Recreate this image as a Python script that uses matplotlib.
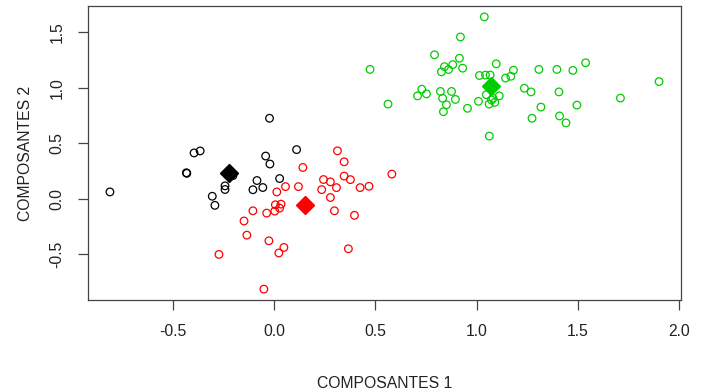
import matplotlib
matplotlib.use("Agg")
import matplotlib.pyplot as plt
import numpy as np

plt.rcParams["font.family"] = ["Liberation Sans", "DejaVu Sans"]

# cluster 1 (black)
x_black = [-0.024, -0.367, -0.397, 0.110, -0.043, -0.022, -0.435, -0.433, -0.205,
           0.026, -0.086, -0.057, -0.106, -0.244, -0.244, -0.813, -0.307, -0.294]
y_black = [0.725, 0.430, 0.412, 0.442, 0.384, 0.312, 0.233, 0.228, 0.207,
           0.181, 0.163, 0.100, 0.080, 0.115, 0.082, 0.060, 0.021, -0.061]

# cluster 2 (red)
x_red = [0.312, 0.345, 0.141, 0.581, 0.345, 0.376, 0.243, 0.277, 0.307, 0.234,
         0.119, 0.055, 0.012, 0.424, 0.468, 0.277, 0.005, 0.033, 0.026, 0.002,
         -0.106, -0.038, 0.297, 0.396, -0.150, -0.136, -0.027, 0.047, 0.022,
         0.366, -0.274, -0.052]
y_red = [0.431, 0.332, 0.281, 0.221, 0.203, 0.171, 0.172, 0.151, 0.099, 0.081,
         0.108, 0.108, 0.060, 0.099, 0.111, 0.010, -0.056, -0.050, -0.086, -0.113,
         -0.110, -0.131, -0.110, -0.151, -0.202, -0.330, -0.381, -0.441, -0.491,
         -0.453, -0.504, -0.817]

# cluster 3 (green)
x_green = [1.038, 0.920, 0.792, 0.915, 0.841, 0.882, 0.861, 0.826, 0.931, 0.473,
           1.097, 1.182, 1.014, 1.044, 1.067, 1.143, 1.169, 1.308, 1.397, 1.476,
           1.539, 1.902, 0.729, 0.708, 0.752, 0.821, 0.832, 0.876, 0.895, 0.851,
           0.836, 0.562, 0.955, 1.048, 1.009, 1.062, 1.081, 1.090, 1.112, 1.073,
           1.236, 1.269, 1.407, 1.318, 1.496, 1.711, 1.274, 1.410, 1.442, 1.063]
y_green = [1.640, 1.459, 1.298, 1.267, 1.191, 1.209, 1.165, 1.144, 1.177, 1.166,
           1.216, 1.159, 1.111, 1.115, 1.115, 1.088, 1.104, 1.166, 1.166, 1.157,
           1.226, 1.056, 0.987, 0.927, 0.945, 0.967, 0.905, 0.967, 0.895, 0.847,
           0.784, 0.853, 0.815, 0.938, 0.878, 0.853, 0.904, 0.869, 0.927, 0.891,
           0.996, 0.963, 0.963, 0.826, 0.844, 0.907, 0.725, 0.746, 0.683, 0.564]

# cluster centres
centre_x = [-0.223, 0.152, 1.073]
centre_y = [0.234, -0.056, 1.016]
colors = ["black", "#ff0000", "#00cd00"]

fig = plt.figure(figsize=(7.06, 3.92), dpi=100)
ax = fig.add_axes([0.1246, 0.2347, 0.840, 0.750])

for xs, ys, c in zip([x_black, x_red, x_green], [y_black, y_red, y_green], colors):
    ax.scatter(xs, ys, s=30, facecolors="none", edgecolors=c, linewidths=0.9)

for cx, cy, c in zip(centre_x, centre_y, colors):
    ax.plot(cx, cy, marker="D", markersize=9, color=c, linestyle="none")

ax.margins(x=0.04, y=0.04)
ax.set_xticks([-0.5, 0.0, 0.5, 1.0, 1.5, 2.0])
ax.set_yticks([-0.5, 0.0, 0.5, 1.0, 1.5])
ax.set_xticklabels(["-0.5", "0.0", "0.5", "1.0", "1.5", "2.0"])
ax.set_yticklabels(["-0.5", "0.0", "0.5", "1.0", "1.5"], rotation=90, va="center")

for sp in ax.spines.values():
    sp.set_color("#444444")
    sp.set_linewidth(0.9)
ax.tick_params(axis="both", direction="out", length=7, width=0.9, color="#444444",
               labelsize=11.3, labelcolor="#222222", pad=10)

ax.set_xlabel("COMPOSANTES 1", fontsize=11.3, color="#222222", labelpad=27)
ax.set_ylabel("COMPOSANTES 2", fontsize=11.3, color="#222222", labelpad=12)

fig.savefig("out.png", dpi=100)
